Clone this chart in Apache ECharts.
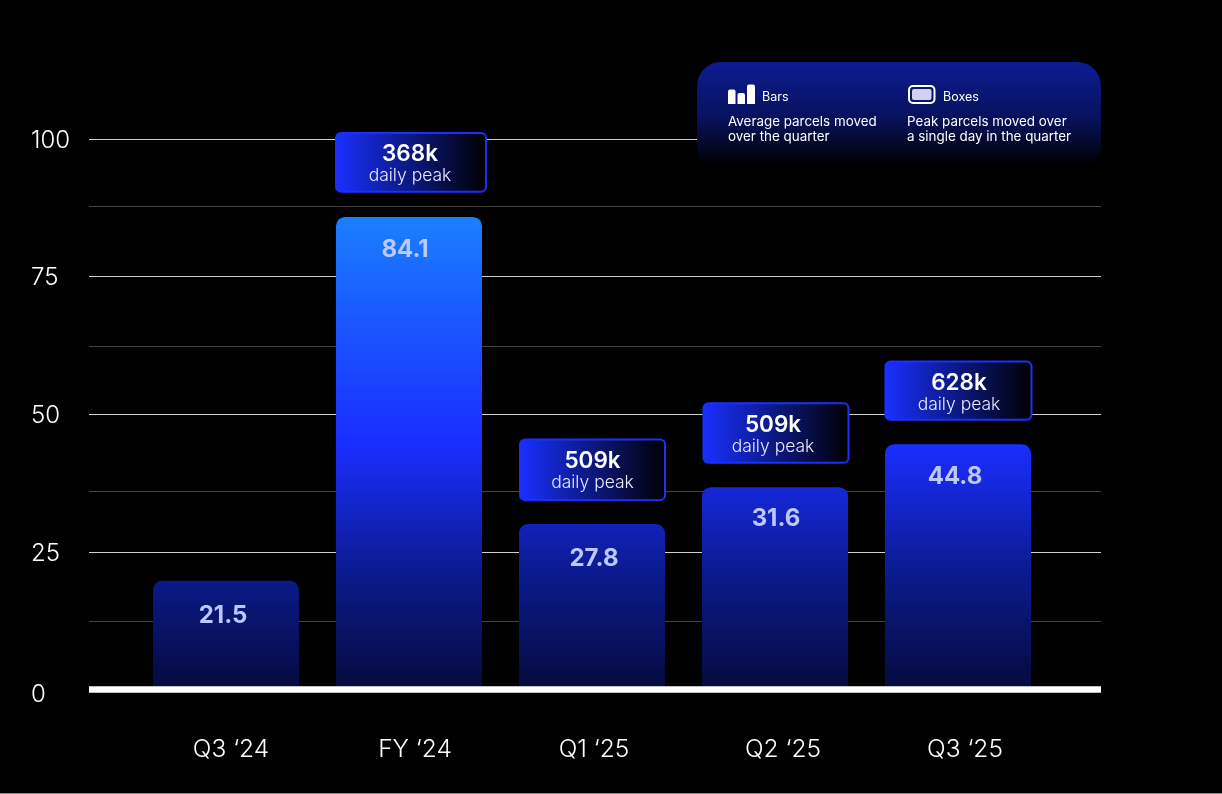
<!DOCTYPE html>
<html><head><meta charset="utf-8">
<style>html,body{margin:0;padding:0;background:#000}#c{width:1222px;height:794px}</style>
<script src="https://cdn.jsdelivr.net/npm/echarts@6/dist/echarts.min.js"></script></head>
<body><div id="c"></div>
<script>
const categories = ["Q3 ‘24","FY ‘24","Q1 ‘25","Q2 ‘25","Q3 ‘25"];
const barHeights = [19.75,85.85,30.05,36.75,44.55];
const barLabels = ["21.5","84.1","27.8","31.6","44.8"];
const peakLabels = [null,"368k","509k","509k","628k"];
const boxLow = [null,90.4,34.4,41.2,49.0];
const boxHigh = [null,101.1,45.4,52.0,59.6];
const yTicks = [0,25,50,75,100];
const minorLines = [87.7,62.4,36,12.4];
const FONT = 'Inter, "Noto Sans", sans-serif';
const labelNudge = [5,6,2,8,7];
const valueNudge = [-3,-4,2,1,-3];
const valueTop = [37,35,37,34,35];
const boxNudge = [0,2,0.5,1,0.5];
const boxExtra = [0,4,-1,-1,0];
const textNudge = [0,-1,0,-3,0.5];

const chart = echarts.init(document.getElementById('c'),null,{renderer:'canvas'});
const barFill = {type:'linear',x:0,y:217,x2:0,y2:689.5,global:true,colorStops:[
 {offset:0,color:'#1a80ff'},{offset:0.2,color:'#1a5aff'},{offset:0.48,color:'#1a2eff'},{offset:0.76,color:'#0b1a8c'},{offset:1,color:'#060a3c'}]};

chart.setOption({
 animation:false,
 backgroundColor:'#000',
 grid:[
  {left:89,right:121,top:139,bottom:104.5},
  {left:134.5,width:915,top:139,bottom:104.5}
 ],
 xAxis:[
  {gridIndex:0,type:'value',show:false,min:0,max:1},
  {gridIndex:1,type:'category',data:categories,
   axisLine:{show:false},axisTick:{show:false},
   axisLabel:{margin:48,interval:0,color:'#fff',fontFamily:FONT,fontSize:24,fontWeight:300,
     formatter:(v,i)=>'{c'+i+'|'+v+'}',
     rich:Object.fromEntries(labelNudge.map((n,i)=>['c'+i,{padding:[0,0,0,2*n],color:'#fff',fontFamily:FONT,fontSize:24.5,fontWeight:300}]))}}
 ],
 yAxis:[
  {gridIndex:0,type:'value',min:0,max:100,interval:25,
   axisLine:{show:false},axisTick:{show:false},
   splitLine:{show:true,lineStyle:{color:'#cfcfcf',width:1}},
   axisLabel:{margin:58,align:'left',color:'#fff',fontFamily:FONT,fontSize:24,fontWeight:300,
     formatter:v=>v===0?'{z|0}':'{n|'+v+'}',
     rich:{z:{padding:[10,0,0,0],color:'#fff',fontFamily:FONT,fontSize:24,fontWeight:300},
           n:{padding:[3,0,0,0],color:'#fff',fontFamily:FONT,fontSize:24,fontWeight:300}}}},
  {gridIndex:1,type:'value',min:0,max:100,interval:25,show:false}
 ],
 series:[
  {type:'line',xAxisIndex:0,yAxisIndex:0,data:[],silent:true,z:1,
   markLine:{z:1,silent:true,symbol:'none',label:{show:false},animation:false,
     lineStyle:{color:'#444',width:1,type:'solid'},
     data:minorLines.map(v=>({yAxis:v}))}},
  {type:'line',xAxisIndex:0,yAxisIndex:0,data:[],silent:true,z:5,
   markLine:{z:5,silent:true,symbol:'none',label:{show:false},animation:false,
     lineStyle:{color:'#fff',width:6.5,type:'solid',cap:'butt'},
     data:[{yAxis:0}]}},
  {type:'bar',xAxisIndex:1,yAxisIndex:1,barWidth:146,z:3,
   data:barHeights.map((v,i)=>({value:v,label:{show:true,formatter:barLabels[i],position:'insideTop',
      distance:valueTop[i]-14,offset:[valueNudge[i],0]}})),
   itemStyle:{color:barFill,borderRadius:[9,9,0,0]},
   label:{color:'#bcc8ff',fontFamily:FONT,fontSize:24,fontWeight:700}},
  {type:'custom',xAxisIndex:1,yAxisIndex:1,z:6,
   data:categories.map((c,i)=>[i,boxLow[i],boxHigh[i]]),
   encode:{x:0,y:[1,2]},
   renderItem(params,api){
     const i=api.value(0);
     if(peakLabels[i]==null) return null;
     const cx=api.coord([i,0])[0]+boxNudge[i];
     const top=api.coord([i,api.value(2)])[1], low=api.coord([i,api.value(1)])[1];
     const w=146+boxExtra[i], x=cx-w/2, tx=cx+textNudge[i];
     return {type:'group',children:[
       {type:'rect',shape:{x,y:top,width:w,height:low-top,r:5},
        style:{fill:new echarts.graphic.LinearGradient(0,0,1,0,[{offset:0,color:'#1a30ff'},{offset:0.25,color:'#1224c0'},{offset:1,color:'#000'}]),stroke:'#1a30ff',lineWidth:2}},
       {type:'text',style:{x:tx,y:top+21.5,text:peakLabels[i],align:'center',verticalAlign:'middle',fill:'#fff',font:'600 22.5px '+FONT}},
       {type:'text',style:{x:tx,y:top+43,text:'daily peak',align:'center',verticalAlign:'middle',fill:'#e8ebff',font:'300 17.5px '+FONT}}
     ]};
   }}
 ],
 graphic:{elements:[
  {type:'rect',z:20,shape:{x:697,y:62,width:404,height:110,r:[24,24,24,24]},
   style:{fill:new echarts.graphic.LinearGradient(0,0,0,1,[{offset:0,color:'#0c1c92'},{offset:0.5,color:'#08125e'},{offset:0.95,color:'#000'},{offset:1,color:'#000'}])}},
  {type:'rect',z:21,shape:{x:728,y:89.5,width:7.5,height:14.5,r:[2,2,0,0]},style:{fill:'#fff'}},
  {type:'rect',z:21,shape:{x:737.5,y:93,width:7.5,height:11,r:[2,2,0,0]},style:{fill:'#fff'}},
  {type:'rect',z:21,shape:{x:747,y:84.5,width:8,height:19.5,r:[2,2,0,0]},style:{fill:'#fff'}},
  {type:'rect',z:21,shape:{x:909,y:86,width:25.5,height:17,r:4},style:{fill:'#0a1570',stroke:'#fff',lineWidth:2}},
  {type:'rect',z:22,shape:{x:912,y:89,width:19.5,height:11,r:2},style:{fill:'#cfd3f0'}},
  {type:'text',z:21,style:{x:762,y:97,text:'Bars',verticalAlign:'middle',fill:'#fff',font:'400 12.5px '+FONT}},
  {type:'text',z:21,style:{x:943,y:97,text:'Boxes',verticalAlign:'middle',fill:'#fff',font:'400 12.5px '+FONT}},
  {type:'text',z:21,style:{x:728,y:122,text:'Average parcels moved',verticalAlign:'middle',fill:'#fff',font:'400 13.4px '+FONT}},
  {type:'text',z:21,style:{x:728,y:137,text:'over the quarter',verticalAlign:'middle',fill:'#fff',font:'400 13.4px '+FONT}},
  {type:'text',z:21,style:{x:907,y:122,text:'Peak parcels moved over',verticalAlign:'middle',fill:'#fff',font:'400 13.4px '+FONT}},
  {type:'text',z:21,style:{x:907,y:137,text:'a single day in the quarter',verticalAlign:'middle',fill:'#fff',font:'400 13.4px '+FONT}},
  {type:'rect',z:30,shape:{x:0,y:793,width:1222,height:1},style:{fill:'#8a8a8a'}}
 ]}
});
</script></body></html>
